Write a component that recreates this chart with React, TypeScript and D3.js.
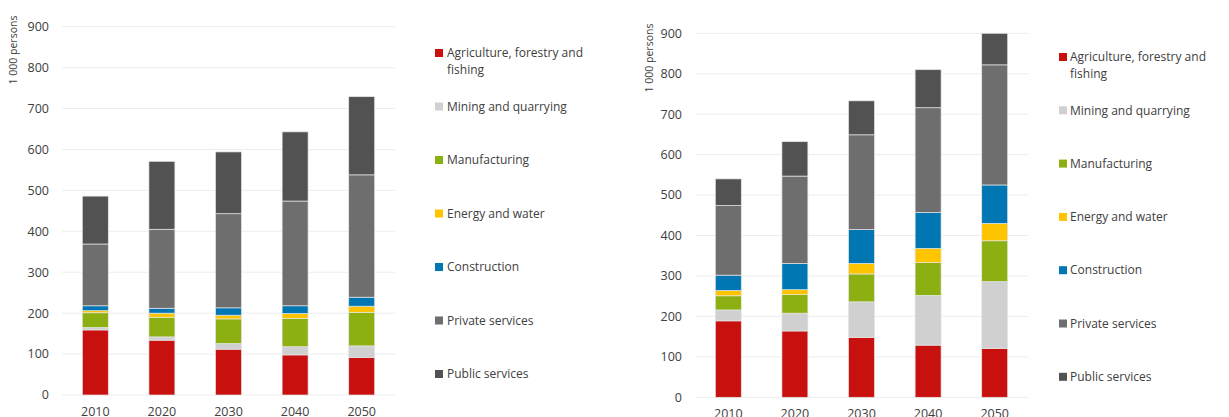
import React from "react";
import * as d3 from "d3";

const years = ["2010", "2020", "2030", "2040", "2050"];
const sectors = [
  "Agriculture, forestry and fishing",
  "Mining and quarrying",
  "Manufacturing",
  "Energy and water",
  "Construction",
  "Private services",
  "Public services",
];
const legendLines = [
  ["Agriculture, forestry and", "fishing"],
  ["Mining and quarrying"],
  ["Manufacturing"],
  ["Energy and water"],
  ["Construction"],
  ["Private services"],
  ["Public services"],
];
const colors = ["#C8100F", "#D0D0D0", "#8CAF12", "#FFC400", "#0076B3", "#6E6E6E", "#525252"];
const yTicks = [0, 100, 200, 300, 400, 500, 600, 700, 800, 900];

// Left chart: values per sector (in years order)
const leftAgriculture = [159, 134, 112, 98, 92];
const leftMining = [6, 8, 14, 20, 28];
const leftManufacturing = [36, 48, 60, 69, 82];
const leftEnergy = [5, 10, 9, 12, 15];
const leftConstruction = [12, 12, 18, 19, 22];
const leftPrivate = [151, 193, 230, 256, 299];
const leftPublic = [117, 166, 151, 169, 191];

// Right chart
const rightAgriculture = [189, 164, 148, 129, 121];
const rightMining = [27, 44, 88, 123, 165];
const rightManufacturing = [35, 46, 69, 81, 101];
const rightEnergy = [13, 12, 26, 35, 43];
const rightConstruction = [38, 65, 84, 89, 95];
const rightPrivate = [172, 216, 234, 259, 297];
const rightPublic = [66, 85, 84, 94, 78];

const leftSeries = [leftAgriculture, leftMining, leftManufacturing, leftEnergy, leftConstruction, leftPrivate, leftPublic];
const rightSeries = [rightAgriculture, rightMining, rightManufacturing, rightEnergy, rightConstruction, rightPrivate, rightPublic];

const FONT = "'Open Sans', 'Liberation Sans', sans-serif";
const TEXT = "#404040";

type Layout = {
  x0: number; x1: number; yZero: number; yTop: number;
  tickRight: number; labelX: number; labelY: number;
  legMarkX: number; legTextX: number; legY0: number; legStep: number;
};

function Chart({ series, L }: { series: number[][]; L: Layout }) {
  const x = d3.scaleBand<string>().domain(years).range([L.x0, L.x1]).paddingInner(0.61).paddingOuter(0.305);
  const y = d3.scaleLinear().domain([0, 900]).range([L.yZero, L.yTop]);
  const rows = years.map((yr, i) => {
    const o: any = { year: yr };
    sectors.forEach((s, k) => (o[s] = series[k][i]));
    return o;
  });
  const stacked = d3.stack<any>().keys(sectors)(rows);
  return (
    <g>
      {yTicks.map((t) => (
        <g key={t}>
          <line x1={L.x0} x2={L.x1} y1={y(t)} y2={y(t)} stroke="#EDEDED" strokeWidth={1} />
          <text x={L.tickRight} y={y(t)} dy="0.35em" textAnchor="end" fontSize={12.5} fill={TEXT} fontFamily={FONT}>
            {t}
          </text>
        </g>
      ))}
      <text
        transform={`translate(${L.labelX},${L.labelY}) rotate(-90)`}
        textAnchor="middle"
        fontSize={10.5}
        fill={TEXT}
        fontFamily={FONT}
      >
        1 000 persons
      </text>
      {stacked.map((layer, k) => (
        <g key={layer.key} fill={colors[k]}>
          {layer.map((d, i) => (
            <rect
              key={i}
              x={x(years[i])!}
              y={y(d[1])}
              width={x.bandwidth()}
              height={y(d[0]) - y(d[1])}
              stroke="#E6E6E6"
              strokeWidth={0.7}
            />
          ))}
        </g>
      ))}
      {years.map((yr) => (
        <text key={yr} x={x(yr)! + x.bandwidth() / 2} y={L.yZero + 21} textAnchor="middle" fontSize={12.5} fill={TEXT} fontFamily={FONT}>
          {yr}
        </text>
      ))}
      {legendLines.map((lines, k) => {
        const cy = L.legY0 + k * L.legStep;
        return (
          <g key={k}>
            <rect x={L.legMarkX} y={cy - 4} width={8} height={8} fill={colors[k]} />
            {lines.map((ln, j) => (
              <text key={j} x={L.legTextX} y={cy + j * 17} dy="0.35em" fontSize={12} fill={TEXT} fontFamily={FONT}>
                {ln}
              </text>
            ))}
          </g>
        );
      })}
    </g>
  );
}

const leftLayout: Layout = {
  x0: 62, x1: 395, yZero: 395, yTop: 26.7, tickRight: 49, labelX: 17, labelY: 50,
  legMarkX: 435, legTextX: 447, legY0: 53, legStep: 53.5,
};
const rightLayout: Layout = {
  x0: 695, x1: 1028, yZero: 397.3, yTop: 33.3, tickRight: 682, labelX: 653, labelY: 58,
  legMarkX: 1059, legTextX: 1070, legY0: 57, legStep: 53.3,
};

export default function App() {
  return (
    <svg width={1229} height={417} style={{ position: "absolute", left: 0, top: 0, background: "#fff" }}>
      <rect width={1229} height={417} fill="#fff" />
      <Chart series={leftSeries} L={leftLayout} />
      <Chart series={rightSeries} L={rightLayout} />
    </svg>
  );
}
